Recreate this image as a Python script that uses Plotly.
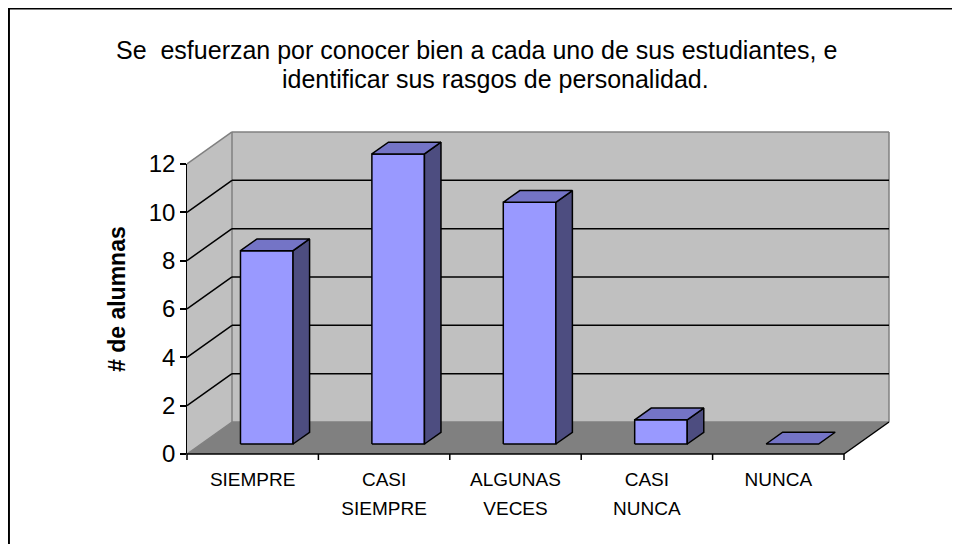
import plotly.graph_objects as go

# ---- data ----
categories_line1 = ["SIEMPRE", "CASI", "ALGUNAS", "CASI", "NUNCA"]
categories_line2 = ["", "SIEMPRE", "VECES", "NUNCA", ""]
values = [8, 12, 10, 1, 0]
y_ticks = [0, 2, 4, 6, 8, 10, 12]
title_line1 = "Se\u00a0 esfuerzan por conocer bien a cada uno de sus estudiantes, e"
title_line2 = "identificar sus rasgos de personalidad."
y_title = "# de alumnas"

# ---- geometry / style ----
OFF = 8                     # page body margin
W, H = 960 - 2 * OFF, 552 - 2 * OFF


def px(x):   # page x -> figure x
    return x - OFF


def py(y):   # page y -> figure y
    return y - OFF


X0, CW = px(187.0), 131.4      # px of category origin, px per category
Y0, VS = py(454.0), 24.17      # px of value 0, px per unit
DX, DY = 45.0 / CW, 32.0 / VS  # depth offsets in data units
VMAX = 12
NCAT = len(values)
BAR_W = 0.40
D1, D2 = 0.3125, 0.68
FRONT, TOP, SIDE = "#9999FF", "#7474C6", "#4D4D80"
WALL, FLOOR = "#C0C0C0", "#808080"
FONT = "Liberation Sans, Arial, sans-serif"

u_rng = [-X0 / CW, (W - X0) / CW]
v_rng = [-(H - Y0) / VS, Y0 / VS]


def P(u, v, d):
    return u + d * DX, v + d * DY


def poly(pts, fill, line_color="black", lw=1.5):
    xs, ys = [], []
    for p in pts:
        x, y = P(*p)
        xs.append(x)
        ys.append(y)
    xs.append(xs[0])
    ys.append(ys[0])
    return go.Scatter(x=xs, y=ys, mode="lines", fill="toself", fillcolor=fill,
                      line=dict(color=line_color, width=lw), hoverinfo="skip",
                      showlegend=False, xaxis="x", yaxis="y2")


def segs(seglist, color, lw=1.5):
    xs, ys = [], []
    for a, b in seglist:
        for p in (a, b):
            x, y = P(*p)
            xs.append(x)
            ys.append(y)
        xs.append(None)
        ys.append(None)
    return go.Scatter(x=xs, y=ys, mode="lines", line=dict(color=color, width=lw),
                      hoverinfo="skip", showlegend=False, xaxis="x", yaxis="y2")


fig = go.Figure()

# walls and floor
fig.add_trace(poly([(0, 0, 0), (0, 0, 1), (0, VMAX, 1), (0, VMAX, 0)], WALL, "rgba(0,0,0,0)", 0))
fig.add_trace(poly([(0, 0, 1), (NCAT, 0, 1), (NCAT, VMAX, 1), (0, VMAX, 1)], WALL, "rgba(0,0,0,0)", 0))
fig.add_trace(poly([(0, 0, 0), (NCAT, 0, 0), (NCAT, 0, 1), (0, 0, 1)], FLOOR, "rgba(0,0,0,0)", 0))

# wall edges (gray)
fig.add_trace(segs([
    ((0, VMAX, 0), (0, VMAX, 1)),
    ((0, VMAX, 1), (NCAT, VMAX, 1)),
    ((NCAT, VMAX, 1), (NCAT, 0, 1)),
    ((0, 0, 1), (0, VMAX, 1)),
    ((0, 0, 1), (NCAT, 0, 1)),
    ((0, 0, 0), (0, 0, 1)),
], "#808080", 1.5))

# gridlines (black)
grid = []
for t in y_ticks:
    if 0 < t < VMAX:
        grid.append(((0, t, 0), (0, t, 1)))
        grid.append(((0, t, 1), (NCAT, t, 1)))
fig.add_trace(segs(grid, "black", 1.5))

# floor front & right edge
fig.add_trace(segs([((0, 0, 0), (NCAT, 0, 0)), ((NCAT, 0, 0), (NCAT, 0, 1))], "black", 1.5))

# category tick marks on the front floor edge
tick_len = 6.0 / VS
fig.add_trace(segs([((i, 0, 0), (i, -tick_len, 0)) for i in range(NCAT + 1)], "black", 1.5))

# bars
for i, v in enumerate(values):
    a, b = i + 0.5 - BAR_W / 2, i + 0.5 + BAR_W / 2
    if v > 0:
        fig.add_trace(poly([(a, 0, D1), (b, 0, D1), (b, v, D1), (a, v, D1)], FRONT))
        fig.add_trace(poly([(b, 0, D1), (b, 0, D2), (b, v, D2), (b, v, D1)], SIDE))
    fig.add_trace(poly([(a, v, D1), (b, v, D1), (b, v, D2), (a, v, D2)], TOP))

# category labels (two lines)
centers = [i + 0.5 for i in range(NCAT)]
fig.add_trace(go.Scatter(x=centers, y=[-(py(481) - Y0) / VS] * NCAT, mode="text",
                         text=categories_line1, textfont=dict(family=FONT, size=19, color="black"),
                         hoverinfo="skip", showlegend=False, xaxis="x", yaxis="y2", cliponaxis=False))
fig.add_trace(go.Scatter(x=centers, y=[-(py(510) - Y0) / VS] * NCAT, mode="text",
                         text=categories_line2, textfont=dict(family=FONT, size=19, color="black"),
                         hoverinfo="skip", showlegend=False, xaxis="x", yaxis="y2", cliponaxis=False))

# invisible trace on the value axis so it is drawn
fig.add_trace(go.Scatter(x=[0, 0], y=[0, VMAX], mode="lines", line=dict(width=0, color="rgba(0,0,0,0)"),
                         hoverinfo="skip", showlegend=False, xaxis="x", yaxis="y"))

fig.update_layout(
    template="none",
    width=W, height=H,
    autosize=False,
    margin=dict(l=0, r=0, t=0, b=0, pad=0),
    paper_bgcolor="white", plot_bgcolor="rgba(0,0,0,0)",
    showlegend=False,
    xaxis=dict(domain=[0, 1], range=u_rng, visible=False, fixedrange=True, anchor="y2", automargin=False),
    yaxis2=dict(domain=[0, 1], range=v_rng, visible=False, fixedrange=True, anchor="x", automargin=False),
    yaxis=dict(
        domain=[(H - Y0) / H, (H - (Y0 - VMAX * VS)) / H],
        range=[0, VMAX], anchor="free", position=X0 / W, automargin=False,
        showline=True, linecolor="black", linewidth=1.5,
        ticks="outside", ticklen=6, tickwidth=1.5, tickcolor="black",
        tickvals=y_ticks, ticktext=[str(t) for t in y_ticks],
        tickfont=dict(family=FONT, size=24, color="black"),
        showgrid=False, zeroline=False, fixedrange=True,
    ),
    annotations=[
        dict(text=title_line1, x=px(476) / W, y=1 - py(50) / H, xref="paper", yref="paper",
             showarrow=False, xanchor="center", yanchor="middle",
             font=dict(family=FONT, size=25, color="black")),
        dict(text=title_line2, x=px(495) / W, y=1 - py(79) / H, xref="paper", yref="paper",
             showarrow=False, xanchor="center", yanchor="middle",
             font=dict(family=FONT, size=25, color="black")),
        dict(text="<b>" + y_title + "</b>", x=px(117) / W, y=1 - py(299) / H, xref="paper", yref="paper",
             showarrow=False, xanchor="center", yanchor="middle", textangle=-90,
             font=dict(family=FONT, size=23, color="black")),
    ],
    shapes=[
        dict(type="rect", xref="paper", yref="paper", x0=0.001, x1=1.05, y0=-0.05, y1=0.999,
             line=dict(color="black", width=2), fillcolor="rgba(0,0,0,0)", layer="above"),
    ],
)

fig.write_html("out.html")
